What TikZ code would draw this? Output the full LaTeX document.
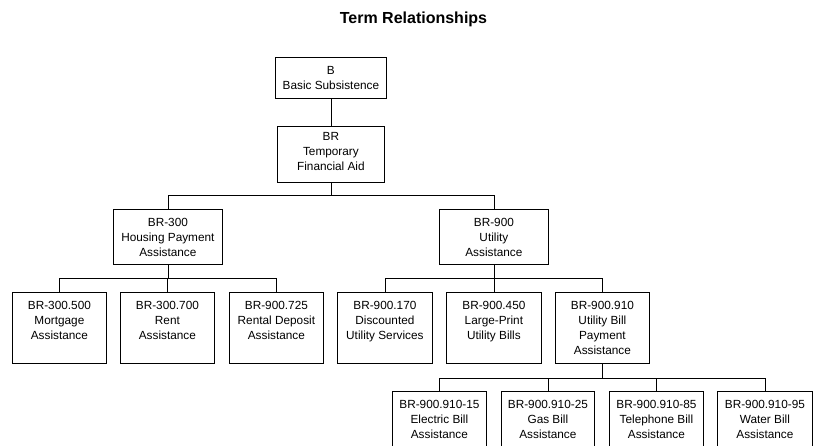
\documentclass[tikz,border=0pt]{standalone}
\usepackage{fontspec}
\setmainfont{Liberation Sans}
\tikzset{
  box/.style={draw, line width=0.8pt, inner sep=0pt, rectangle},
  txt/.style={align=center, inner sep=0pt, font=\fontsize{11.8pt}{15pt}\selectfont},
  link/.style={line width=0.8pt},
}
\newcommand\tbox[7][8.8]{%
  \node[box, minimum width=#5pt, minimum height=#6pt, anchor=north west] (#2) at (#3,#4) {};
  \node[txt, anchor=north] (#2-t) at ([yshift=-#1pt]#2.north) {#7};
}
\begin{document}
\begin{tikzpicture}[x=1pt,y=-1pt]
\useasboundingbox (0,0) rectangle (813,445);
\node[anchor=base, inner sep=0pt, font=\fontsize{16pt}{19pt}\selectfont\bfseries] (title) at (413.5,23.5) {Term Relationships};

\tbox{b}{275}{57}{111}{41}{B\\Basic Subsistence}
\tbox[6.5]{br}{277}{126}{107}{56}{BR\\Temporary\\Financial Aid}
\tbox{br300}{113}{209}{109}{55}{BR-300\\Housing Payment\\Assistance}
\tbox{br900}{439}{209}{109}{55}{BR-900\\Utility\\Assistance}

\tbox{br300a}{12}{292}{94}{71}{BR-300.500\\Mortgage\\Assistance}
\tbox{br300b}{120}{292}{94}{71}{BR-300.700\\Rent\\Assistance}
\tbox{br300c}{229}{292}{94}{71}{BR-900.725\\Rental Deposit\\Assistance}
\tbox{br900a}{337}{292}{95}{71}{BR-900.170\\Discounted\\Utility Services}
\tbox{br900b}{446}{292}{95}{71}{BR-900.450\\Large-Print\\Utility Bills}
\tbox{br900c}{555}{292}{94}{71}{BR-900.910\\Utility Bill\\Payment\\Assistance}

\tbox{w15}{392}{391}{94}{75}{BR-900.910-15\\Electric Bill\\Assistance}
\tbox{w25}{501}{391}{93}{75}{BR-900.910-25\\Gas Bill\\Assistance}
\tbox{w85}{609}{391}{94}{75}{BR-900.910-85\\Telephone Bill\\Assistance}
\tbox{w95}{717}{391}{95}{75}{BR-900.910-95\\Water Bill\\Assistance}

% connectors
\draw[link] (b.south) -- (br.north);

\coordinate (busbr) at (br.south |- 0,195);
\foreach \c in {br300,br900}
  \draw[link] (br.south) -- (busbr) -| (\c.north);

\coordinate (bus300) at (br300.south |- 0,278);
\foreach \c in {br300a,br300b,br300c}
  \draw[link] (br300.south) -- (bus300) -| (\c.north);

\coordinate (bus900) at (br900.south |- 0,278);
\foreach \c in {br900a,br900b,br900c}
  \draw[link] (br900.south) -- (bus900) -| (\c.north);

\coordinate (bus910) at (br900c.south |- 0,378);
\foreach \c in {w15,w25,w85,w95}
  \draw[link] (br900c.south) -- (bus910) -| (\c.north);
\end{tikzpicture}
\end{document}
